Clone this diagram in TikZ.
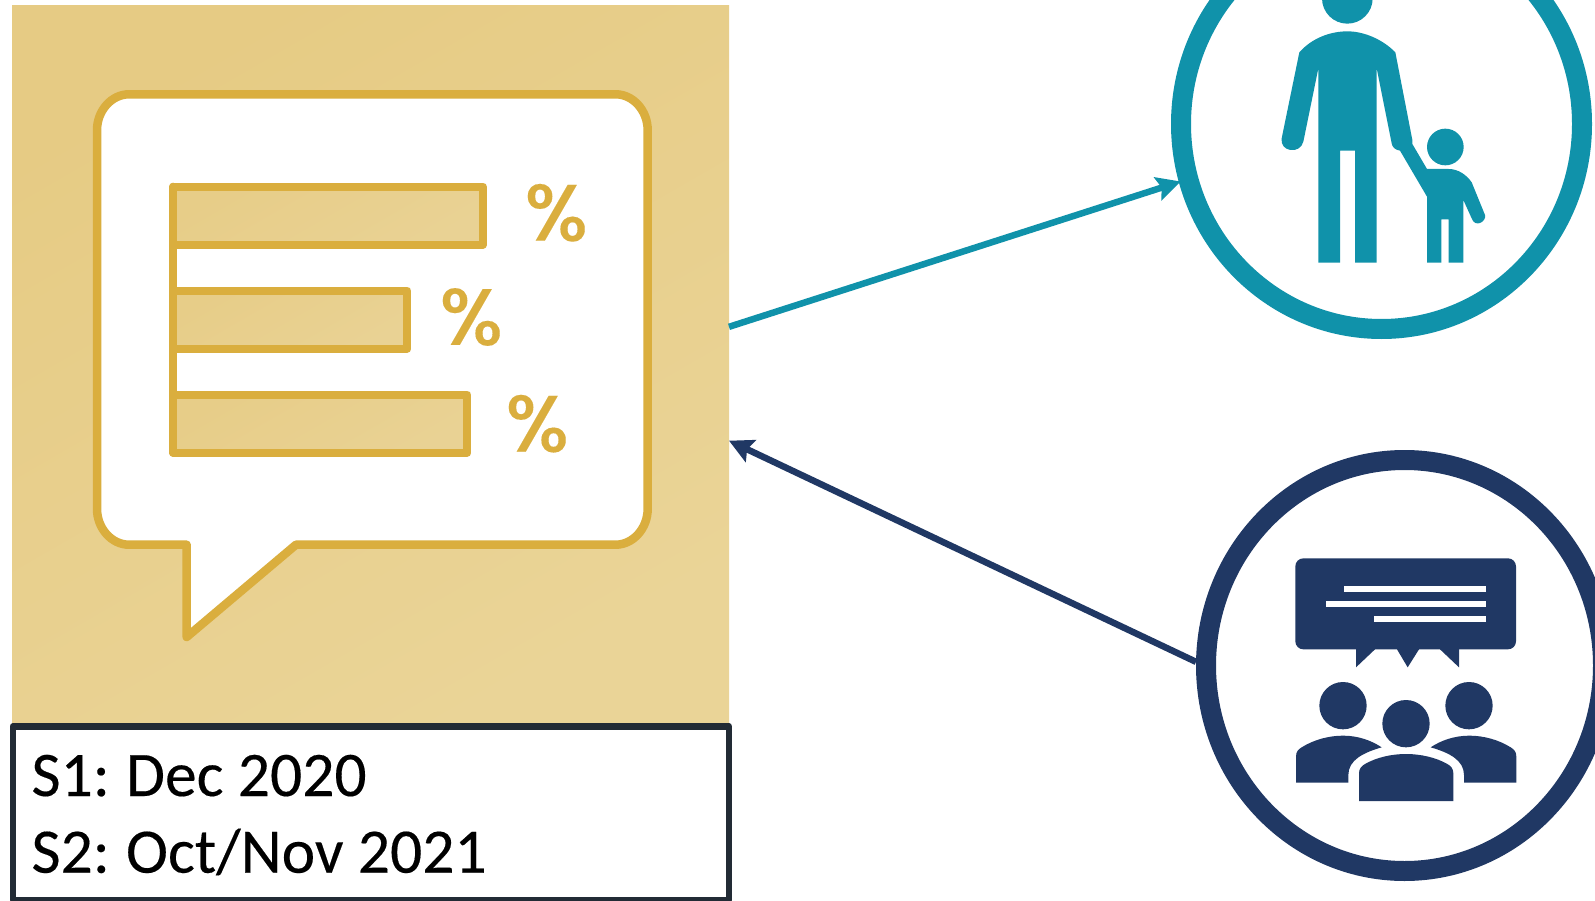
\documentclass[tikz,border=0pt]{standalone}
\usepackage{fontspec}
\setmainfont{Carlito}[FakeBold=0.25]
\newfontfamily\pctfont{Poppins}[UprightFont=* Medium,FakeBold=0.15]
\usetikzlibrary{arrows.meta,shapes.geometric}
\definecolor{teal1}{HTML}{1092AA}
\definecolor{navy1}{HTML}{203864}
\definecolor{gold1}{HTML}{DAAE3E}
\definecolor{tanA}{HTML}{E6CB84}
\definecolor{tanB}{HTML}{EAD497}
\definecolor{barA}{HTML}{E7CD88}
\definecolor{barB}{HTML}{E9D294}
\definecolor{slate1}{HTML}{222B35}
\tikzset{
  panelbox/.style={rectangle,draw=none,inner sep=0pt,outer sep=0pt,top color=tanA,bottom color=tanB,shading angle=30,minimum width=717pt,minimum height=717pt},
  ringnode/.style={ellipse,fill=white,line width=20pt,outer sep=10pt,inner sep=0pt},
  datebox/.style={rectangle,draw=slate1,fill=white,line width=6.5pt,line join=round,inner sep=0pt,outer sep=0pt,minimum width=716.25pt,minimum height=173.5pt},
  datetext/.style={anchor=base west,inner sep=0pt,outer sep=0pt,font=\fontsize{63.5}{64}\selectfont,text=black},
  pct/.style={inner sep=0pt,outer sep=0pt,text=gold1,font=\pctfont\fontsize{80}{80}\selectfont},
  goldline/.style={draw=gold1,line width=8pt,line join=round,line cap=round},
  barbox/.style={goldline,top color=barA,bottom color=barB,shading angle=30},
  link/.style={line width=6.5pt,-{Stealth[length=24pt,width=24pt,inset=4pt]}}
}
\begin{document}
\begin{tikzpicture}[x=1pt,y=-1pt]
\useasboundingbox (0,0) rectangle (1595,901);
\clip (0,0) rectangle (1595,901);
\fill[white] (0,0) rectangle (1595,901);
% panel
\node[panelbox] (survey) at (370.5,364.5) {};
% speech bubble
\path[draw=gold1,line width=8.5pt,line join=round,fill=white]
  (129,94.3) -- (615.7,94.3) .. controls (633,94.3) and (647.7,110.5) .. (647.7,130.3)
  -- (647.7,508.7) .. controls (647.7,528.5) and (633,544.7) .. (615.7,544.7)
  -- (296,544.7) -- (186.7,637) -- (186.7,544.7) -- (129,544.7)
  .. controls (111.7,544.7) and (97,528.5) .. (97,508.7)
  -- (97,130.3) .. controls (97,110.5) and (111.7,94.3) .. (129,94.3) -- cycle;
% bars
\path[barbox] (173.3,186.7) rectangle (483,244.7);
\path[barbox] (173.3,290.7) rectangle (407.3,348.7);
\path[barbox] (173.3,394.7) rectangle (467.3,452.7);
\path[goldline] (173.3,186.7) -- (173.3,452.7);
\node[pct] (p1) at (556.3,212.8) {\%};
\node[pct] (p2) at (471.3,317) {\%};
\node[pct] (p3) at (537.3,423.7) {\%};
% date box
\node[datebox] (dates) at (370.9,813.25) {};
\node[datetext] (s1) at (31.5,796) {S1:\kern-3pt{} Dec 2020};
\node[datetext] (s2) at (31.5,872.7) {S2:\kern-3pt{} Oct/Nov 2021};
% rings
\node[ringnode,draw=teal1,minimum width=401pt,minimum height=410pt] (parents) at (1381.5,124) {};
\node[ringnode,draw=navy1,minimum width=397pt,minimum height=411pt] (group) at (1404.5,665.5) {};
% connectors
\draw[link,draw=teal1,fill=teal1,shorten >=-2pt] (survey.6.1) -- (parents.196);
\draw[link,draw=navy1,fill=navy1] (group.179) -- (survey.-12);
% parent and child
\begin{scope}[shift={(1180,0)},x=1/3*1pt,y=-1/3*1pt]
\fill[teal1] (502,-5) circle[radius=76];
\fill[teal1] (796,441) circle[radius=55];
\fill[teal1] (358,157) .. controls (395,115) and (450,94) .. (502,94) .. controls (554,94) and (610,120) .. (646,157) -- (697,420) -- (697,432) -- (741,507) -- (806,507)
  .. controls (835,507) and (860,525) .. (875,547) -- (915,645) .. controls (920,665) and (885,685) .. (875,655)
  -- (850,600) -- (850,788) -- (806,788) -- (806,658) -- (784,658) -- (784,788) -- (741,788) -- (741,590) -- (660,452)
  .. controls (645,450) and (636,440) .. (635,430) -- (590,205) -- (590,788) -- (525,788) -- (525,452) -- (480,452)
  -- (480,788) -- (415,788) -- (415,205) -- (370,425) .. controls (360,465) and (298,455) .. (305,415) -- cycle;
\end{scope}
% discussion group
\begin{scope}[shift={(1180,440)},x=1/3*1pt,y=-1/3*1pt]
\fill[navy1,rounded corners=8pt] (346,355) rectangle (1008,628);
\fill[navy1] (528,620) -- (528,682) -- (585,628) -- (585,620) -- cycle;
\fill[navy1] (651,620) -- (651,628) -- (683,682) -- (717,628) -- (717,620) -- cycle;
\fill[navy1] (780,620) -- (780,628) -- (837,682) -- (837,620) -- cycle;
\fill[white] (492,438) rectangle (918,456);
\fill[white] (438,483) rectangle (918,501);
\fill[white] (583,529) rectangle (918,547);
\fill[navy1] (489,797) circle[radius=71];
\fill[navy1] (867,797) circle[radius=71];
\fill[navy1] (678,851) circle[radius=71];
\fill[navy1] (348,1028) -- (348,950) .. controls (348,935) and (355,928) .. (365,922) .. controls (400,900) and (445,887) .. (489,887)
  .. controls (535,887) and (575,902) .. (605,922) .. controls (550,938) and (505,960) .. (505,1005) -- (505,1028) -- cycle;
\fill[navy1] (1009,1028) -- (1009,950) .. controls (1009,935) and (1002,928) .. (992,922) .. controls (957,900) and (912,887) .. (868,887)
  .. controls (822,887) and (782,902) .. (752,922) .. controls (807,938) and (852,960) .. (852,1005) -- (852,1028) -- cycle;
\fill[navy1] (537,1083) -- (537,1000) .. controls (537,985) and (545,978) .. (555,972) .. controls (590,952) and (635,942) .. (678,942)
  .. controls (721,942) and (767,952) .. (802,972) .. controls (812,978) and (820,985) .. (820,1000) -- (820,1083) -- cycle;
\end{scope}
\end{tikzpicture}
\end{document}
